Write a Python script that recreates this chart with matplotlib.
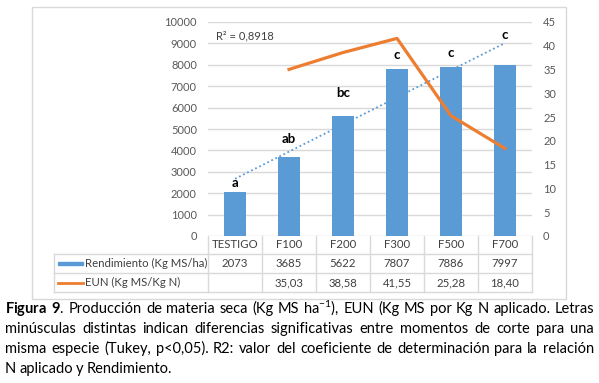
import numpy as np
import matplotlib
matplotlib.use('Agg')
import matplotlib.pyplot as plt
from matplotlib.patches import Rectangle
from matplotlib.lines import Line2D

## ------------  Data  ---------------
categories = ['TESTIGO', 'F100', 'F200', 'F300', 'F500', 'F700']
rendimiento = [2073, 3685, 5622, 7807, 7886, 7997]
eun = [np.nan, 35.03, 38.58, 41.55, 25.28, 18.40]
eun_labels = ['', '35,03', '38,58', '41,55', '25,28', '18,40']
letters = ['a', 'ab', 'bc', 'c', 'c', 'c']
letter_y = [2480, 4530, 6680, 8460, 8550, 9390]
caption = [
    [r'$\mathbf{Figura}$', r'$\mathbf{9}$.', 'Producción', 'de', 'materia', 'seca', '(Kg', 'MS',
     r'ha$^{-1}$),', 'EUN', '(Kg', 'MS', 'por', 'Kg', 'N', 'aplicado.', 'Letras'],
    'minúsculas distintas indican diferencias significativas entre momentos de corte para una'.split(),
    'misma especie (Tukey, p<0,05). R2: valor del coeficiente de determinación para la relación'.split(),
    'N aplicado y Rendimiento.'.split(),
]

## ------------  Style  ---------------
plt.rcParams['font.family'] = ['Lato', 'DejaVu Sans']
plt.rcParams['mathtext.fontset'] = 'custom'
plt.rcParams['mathtext.rm'] = 'Lato'
plt.rcParams['mathtext.bf'] = 'Lato:bold'
plt.rcParams['mathtext.it'] = 'Lato:italic'
BLUE = '#5B9BD5'
ORANGE = '#ED7D31'
GRID = '#D9D9D9'
TXT = '#595959'
W, H = 599, 383

def fx(px):
    return px / W

def fy(py):
    return 1 - py / H

fig = plt.figure(figsize=(W / 100, H / 100), dpi=100)
# outer chart border
fig.patches.append(Rectangle((fx(32), fy(299)), fx(566) - fx(32), fy(7) - fy(299),
                             transform=fig.transFigure, fill=False, ec=GRID, lw=1))

ax = fig.add_axes([fx(208), fy(236), fx(532) - fx(208), fy(22) - fy(236)])
x = np.arange(len(categories))
ax.bar(x, rendimiento, width=0.39, color=BLUE, zorder=3)
ax.set_xlim(-0.5, len(categories) - 0.5)
ax.set_ylim(0, 10000)
ax.set_yticks(range(0, 10001, 1000))
ax.yaxis.grid(True, color=GRID, lw=1, zorder=0)
ax.set_xticks([])
ax.tick_params(axis='y', length=0, pad=8, labelsize=8, labelcolor=TXT)
for s in ax.spines.values():
    s.set_visible(False)

# linear trend
coef = np.polyfit(x + 1, rendimiento, 1)
fit = np.polyval(coef, x + 1)
r2 = 1 - np.sum((np.array(rendimiento) - fit) ** 2) / np.sum((np.array(rendimiento) - np.mean(rendimiento)) ** 2)
ax.plot(x, fit, color=BLUE, lw=1.3, ls=(0, (1, 1.5)), zorder=4)
ax.text(-0.35, 9350, 'R² = ' + f'{r2:.4f}'.replace('.', ','), fontsize=8, color='#404040',
        va='center', ha='left')

for xi, lab, ly in zip(x, letters, letter_y):
    ax.text(xi, ly, lab, ha='center', va='center', fontsize=9.5, fontweight='bold', zorder=5)

ax2 = ax.twinx()
ax2.plot(x, eun, color=ORANGE, lw=2.3, zorder=5)
ax2.set_ylim(0, 45)
ax2.set_yticks(range(0, 46, 5))
ax2.tick_params(axis='y', length=0, pad=8, labelsize=8, labelcolor=TXT)
for s in ax2.spines.values():
    s.set_visible(False)

## ------------  Data table  ---------------
rows_y = [236, 254, 273, 292]
col_x = [208 + 54 * i for i in range(len(categories) + 1)]
tf = fig.transFigure
def hline(y, x0, x1):
    fig.lines.append(Line2D([fx(x0), fx(x1)], [fy(y), fy(y)], transform=tf, color=GRID, lw=1))
def vline(xp, y0, y1):
    fig.lines.append(Line2D([fx(xp), fx(xp)], [fy(y0), fy(y1)], transform=tf, color=GRID, lw=1))

hline(254, 54, 532)
hline(273, 54, 532)
hline(292, 54, 532)
vline(54, 254, 292)
for cx in col_x:
    vline(cx, 236, 292)

def cell(xp, yp, s, ha='center'):
    fig.text(fx(xp), fy(yp), s, ha=ha, va='center', fontsize=8.2, color='#404040')

for i, c in enumerate(categories):
    xc = (col_x[i] + col_x[i + 1]) / 2
    cell(xc, (rows_y[0] + rows_y[1]) / 2, c)
    cell(xc, (rows_y[1] + rows_y[2]) / 2, str(rendimiento[i]))
    cell(xc, (rows_y[2] + rows_y[3]) / 2, eun_labels[i])

fig.patches.append(Rectangle((fx(58), fy(265)), fx(83) - fx(58), fy(262) - fy(265),
                             transform=tf, color=BLUE))
fig.lines.append(Line2D([fx(58), fx(83)], [fy(282.5), fy(282.5)], transform=tf, color=ORANGE, lw=2))
cell(85, (rows_y[1] + rows_y[2]) / 2, 'Rendimiento (Kg MS/ha)', ha='left')
cell(85, (rows_y[2] + rows_y[3]) / 2, 'EUN (Kg MS/Kg N)', ha='left')

## ------------  Caption (justified)  ---------------
renderer = fig.canvas.get_renderer()
x0, x1 = 5, 594
base = 313
for li, words in enumerate(caption):
    yb = base + 20 * li
    txts = [fig.text(0, fy(yb), w, fontsize=10.5, color='black', va='baseline', ha='left') for w in words]
    widths = [t.get_window_extent(renderer).width for t in txts]
    if li < len(caption) - 1:
        gap = max(2.0, (x1 - x0 - sum(widths)) / (len(words) - 1))
    else:
        gap = 3.0
    cur = x0
    for t, wd in zip(txts, widths):
        t.set_x(fx(cur))
        cur += wd + gap

fig.savefig('out.png', dpi=100)
